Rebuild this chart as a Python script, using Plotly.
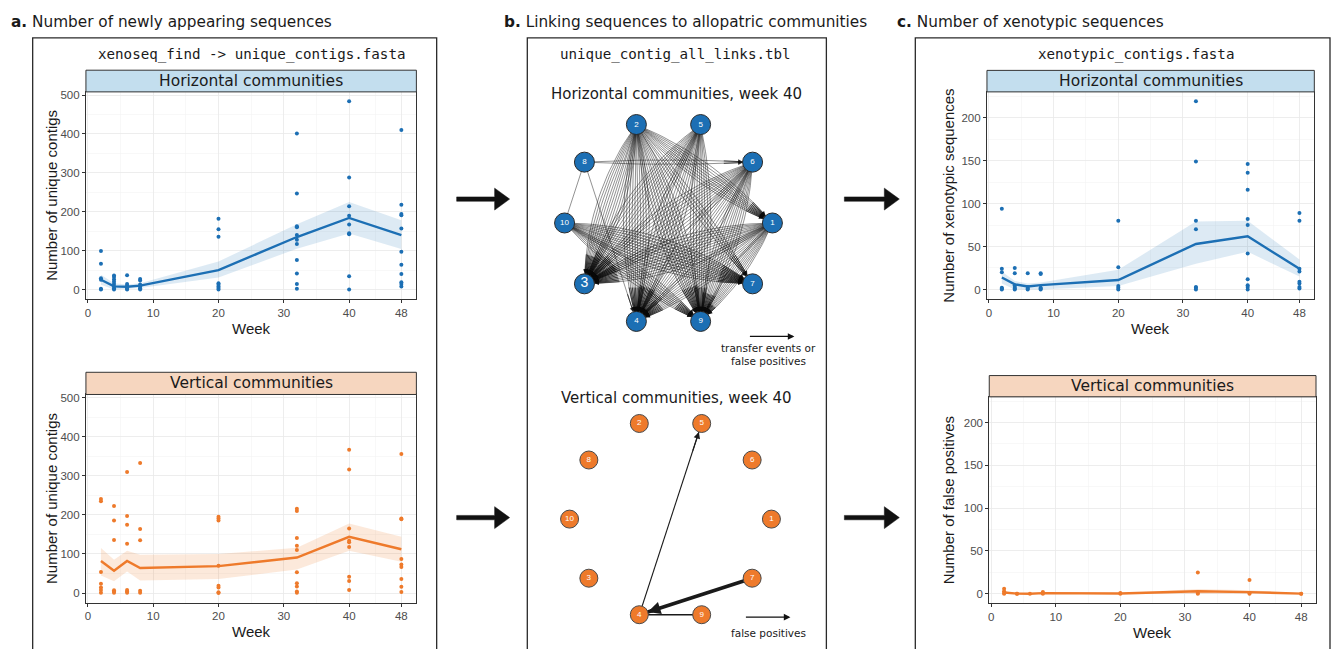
import numpy as np
import plotly.graph_objects as go

W, H = 1333, 649


def fx(x):
    return x / W


def fy(y):
    return 1 - y / H


# ---------------- data ----------------
WEEKS = [2, 4, 6, 8, 20, 32, 40, 48]
X_TICKS = [0, 10, 20, 30, 40, 48]
X_MINOR = [5, 15, 25, 35, 44]
Y_TICKS_A = [0, 100, 200, 300, 400, 500]
Y_MINOR_A = [50, 150, 250, 350, 450]
Y_TICKS_C = [0, 50, 100, 150, 200]
Y_MINOR_C = [25, 75, 125, 175, 225]

# a. unique contigs, horizontal communities
UNIQUE_H = [[99, 66, 29, 25, 2, 0], [36, 32, 26, 20, 14, 8, 3, 0], [37, 14, 10, 6, 2, 0],
            [27, 23, 13, 8, 3, 0], [182, 155, 136, 16, 12, 8, 4, 0],
            [401, 247, 163, 160, 140, 128, 117, 76, 41, 14, 2],
            [484, 288, 214, 190, 167, 145, 142, 34, 0],
            [410, 218, 194, 191, 157, 97, 64, 40, 19, 14, 8]]
UNIQUE_H_MEAN = [25, 8, 7, 10, 50, 135, 184, 140]
UNIQUE_H_LO = [12, 0, 2, 4, 31, 105, 144, 104]
UNIQUE_H_HI = [38, 16, 13, 16, 72, 168, 225, 178]

# a. unique contigs, vertical communities
UNIQUE_V = [[241, 235, 54, 24, 14, 8, 1], [223, 186, 136, 7, 4, 1], [310, 197, 175, 126, 8, 4, 1],
            [333, 164, 135, 6, 1], [195, 191, 186, 70, 19, 14, 2, 0],
            [216, 210, 141, 121, 110, 53, 25, 17, 4, 1],
            [367, 316, 165, 134, 130, 118, 42, 31, 8],
            [356, 191, 189, 87, 73, 67, 36, 16, 3]]
UNIQUE_V_MEAN = [82, 57, 82, 64, 69, 91, 144, 112]
UNIQUE_V_LO = [45, 30, 55, 32, 36, 60, 108, 80]
UNIQUE_V_HI = [115, 85, 108, 98, 100, 116, 178, 144]

# c. xenotypic sequences, horizontal communities
XENO_H = [[94, 24, 20, 2, 1, 0], [25, 19, 5, 3, 1, 0], [19, 3, 1, 0], [19, 18, 2, 1, 0],
          [80, 26, 4, 2, 0], [219, 149, 80, 70, 3, 2, 0],
          [146, 136, 116, 82, 75, 42, 12, 5, 3, 0], [89, 80, 24, 21, 9, 7, 3, 1]]
XENO_H_MEAN = [14, 6, 3.5, 5, 11, 53, 62, 24]
XENO_H_LO = [7, 0, 0, 0, 4, 30, 44, 15]
XENO_H_HI = [21, 10, 7, 8, 23, 79, 80, 35]

# c. false positives, vertical communities
FP_V = [[6, 3, 1, 0], [0, 0], [0], [2, 1, 0], [1, 0], [25, 1, 0], [16, 1, 0], [0, 0]]
FP_V_MEAN = [1.5, 0.2, 0, 0.8, 0.3, 3, 2, 0.2]
FP_V_LO = [0, 0, 0, 0, 0, 0.5, 0, 0]
FP_V_HI = [3, 1, 0.5, 2, 1, 5.5, 4, 1]

# b. networks (nodes placed on a circle in this order, counter-clockwise from east)
NODE_ORDER = ["1", "6", "5", "2", "8", "10", "3", "4", "9", "7"]
H_EDGES = [("2", "3", 12), ("2", "4", 10), ("2", "9", 10), ("2", "1", 9), ("2", "7", 4),
           ("5", "3", 12), ("5", "4", 10), ("5", "9", 8),
           ("6", "3", 12), ("6", "4", 10), ("6", "9", 10),
           ("1", "3", 12), ("1", "4", 10), ("1", "9", 9),
           ("10", "7", 12), ("10", "9", 8),
           ("8", "6", 2), ("8", "10", 1), ("8", "4", 1)]
V_EDGES = [("4", "5", 1), ("9", "4", 2), ("7", "4", 6)]

# ---------------- styles ----------------
BLUE = "#1c6fb4"
ORANGE = "#ee7a2b"
BLUE_RIB = "rgba(28,111,180,0.15)"
ORANGE_RIB = "rgba(238,122,43,0.17)"
STRIP_BLUE = "#c3deee"
STRIP_ORANGE = "#f6d6bf"
SANS = "Liberation Sans, Arial, sans-serif"
HEAD = "DejaVu Sans, Verdana, sans-serif"
MONO = "DejaVu Sans Mono, monospace"

fig = go.Figure()
shapes = []
annotations = []

PANELS = [
    dict(n=1, x=(85, 415.7), y=(89.3, 297.3), strip=67.5, label="Horizontal communities",
         sc=STRIP_BLUE, pts=UNIQUE_H, mean=UNIQUE_H_MEAN, lo=UNIQUE_H_LO, hi=UNIQUE_H_HI,
         col=BLUE, rib=BLUE_RIB, yr=[-24.2, 508.2], yt=Y_TICKS_A, ym=Y_MINOR_A,
         ytitle="Number of unique contigs", ytx=50.5),
    dict(n=2, x=(85, 415.7), y=(393.3, 602.3), strip=371, label="Vertical communities",
         sc=STRIP_ORANGE, pts=UNIQUE_V, mean=UNIQUE_V_MEAN, lo=UNIQUE_V_LO, hi=UNIQUE_V_HI,
         col=ORANGE, rib=ORANGE_RIB, yr=[-24.2, 508.2], yt=Y_TICKS_A, ym=Y_MINOR_A,
         ytitle="Number of unique contigs", ytx=50.5),
    dict(n=3, x=(986.7, 1314.3), y=(89.3, 297.3), strip=67.7, label="Horizontal communities",
         sc=STRIP_BLUE, pts=XENO_H, mean=XENO_H_MEAN, lo=XENO_H_LO, hi=XENO_H_HI,
         col=BLUE, rib=BLUE_RIB, yr=[-11, 230], yt=Y_TICKS_C, ym=Y_MINOR_C,
         ytitle="Number of xenotypic sequences", ytx=948),
    dict(n=4, x=(989, 1316), y=(395.7, 603), strip=374.3, label="Vertical communities",
         sc=STRIP_ORANGE, pts=FP_V, mean=FP_V_MEAN, lo=FP_V_LO, hi=FP_V_HI,
         col=ORANGE, rib=ORANGE_RIB, yr=[-11, 230], yt=Y_TICKS_C, ym=Y_MINOR_C,
         ytitle="Number of false positives", ytx=948),
]

layout_axes = {}
for p in PANELS:
    n = p["n"]
    xa, ya = f"x{n}", f"y{n}"
    px_, py_ = [], []
    for w, vals in zip(WEEKS, p["pts"]):
        px_ += [w] * len(vals)
        py_ += vals
    fig.add_trace(go.Scatter(x=px_, y=py_, mode="markers", xaxis=xa, yaxis=ya,
                             marker=dict(color=p["col"], size=4), showlegend=False,
                             hoverinfo="skip"))
    fig.add_trace(go.Scatter(x=WEEKS, y=p["lo"], mode="lines", line=dict(width=0),
                             xaxis=xa, yaxis=ya, showlegend=False, hoverinfo="skip"))
    fig.add_trace(go.Scatter(x=WEEKS, y=p["hi"], mode="lines", line=dict(width=0),
                             fill="tonexty", fillcolor=p["rib"], xaxis=xa, yaxis=ya,
                             showlegend=False, hoverinfo="skip"))
    fig.add_trace(go.Scatter(x=WEEKS, y=p["mean"], mode="lines",
                             line=dict(color=p["col"], width=2.4),
                             xaxis=xa, yaxis=ya, showlegend=False, hoverinfo="skip"))
    common = dict(showline=True, mirror=True, linecolor="#333333", linewidth=1,
                  ticks="outside", ticklen=3, tickcolor="#333333", tickwidth=1,
                  showgrid=True, gridcolor="#e8e8e8", gridwidth=0.8, zeroline=False,
                  tickfont=dict(family=SANS, size=11.5, color="#4d4d4d"))
    layout_axes[f"xaxis{n}"] = dict(domain=[fx(p["x"][0]), fx(p["x"][1])], anchor=ya,
                                    range=[-0.3, 50.3], tickmode="array", tickvals=X_TICKS,
                                    minor=dict(tickmode="array", tickvals=X_MINOR, showgrid=True,
                                               gridcolor="#f4f4f4", gridwidth=0.6),
                                    **common)
    layout_axes[f"yaxis{n}"] = dict(domain=[fy(p["y"][1]), fy(p["y"][0])], anchor=xa,
                                    range=p["yr"], tickmode="array", tickvals=p["yt"],
                                    minor=dict(tickmode="array", tickvals=p["ym"], showgrid=True,
                                               gridcolor="#f4f4f4", gridwidth=0.6),
                                    **common)
    shapes.append(dict(type="rect", xref="paper", yref="paper",
                       x0=fx(p["x"][0]), x1=fx(p["x"][1]), y0=fy(p["y"][0]), y1=fy(p["strip"]),
                       fillcolor=p["sc"], line=dict(color="#333333", width=1)))
    annotations.append(dict(xref="paper", yref="paper", x=fx((p["x"][0] + p["x"][1]) / 2),
                            y=fy((p["y"][0] + p["strip"]) / 2), text=p["label"], showarrow=False,
                            font=dict(family=HEAD, size=15.5, color="#1a1a1a"),
                            xanchor="center", yanchor="middle"))
    annotations.append(dict(xref="paper", yref="paper", x=fx((p["x"][0] + p["x"][1]) / 2),
                            y=fy(p["y"][1] + 29.5), text="Week", showarrow=False,
                            font=dict(family=SANS, size=15, color="#1a1a1a"),
                            xanchor="center", yanchor="middle"))
    annotations.append(dict(xref="paper", yref="paper", x=fx(p["ytx"]),
                            y=fy((p["y"][0] + p["y"][1]) / 2), text=p["ytitle"], showarrow=False,
                            textangle=-90, font=dict(family=SANS, size=15, color="#1a1a1a"),
                            xanchor="center", yanchor="middle"))

# ---------------- networks ----------------
angles = np.deg2rad(np.arange(len(NODE_ORDER)) * 36.0)
POS = {nd: np.array([np.cos(a), np.sin(a)]) for nd, a in zip(NODE_ORDER, angles)}


def net_axes(n, cx, cy, r):
    half = 1.25 * r
    layout_axes[f"xaxis{n}"] = dict(domain=[fx(cx - half), fx(cx + half)], range=[-1.25, 1.25],
                                    anchor=f"y{n}", visible=False, fixedrange=True)
    layout_axes[f"yaxis{n}"] = dict(domain=[fy(cy + half), fy(cy - half)], range=[-1.25, 1.25],
                                    anchor=f"x{n}", visible=False, fixedrange=True)


net_axes(5, 668, 221, 104)
net_axes(6, 670, 518.5, 101)

ex, ey = [], []
for s, t, k in H_EDGES:
    p0, p2 = POS[s], POS[t]
    d = p2 - p0
    L = np.linalg.norm(d)
    perp = np.array([-d[1], d[0]]) / L
    curv = np.linspace(-0.013 * k, 0.013 * k, k) if k > 1 else [0.0]
    tt = np.linspace(0, 1, 30)
    for c in curv:
        p1 = (p0 + p2) / 2 + c * L * perp
        pts = ((1 - tt) ** 2)[:, None] * p0 + (2 * (1 - tt) * tt)[:, None] * p1 + (tt ** 2)[:, None] * p2
        ex += list(pts[:, 0]) + [None]
        ey += list(pts[:, 1]) + [None]
        tb = 0.82
        pb = (1 - tb) ** 2 * p0 + 2 * (1 - tb) * tb * p1 + tb ** 2 * p2
        annotations.append(dict(xref="x5", yref="y5", axref="x5", ayref="y5",
                                x=p2[0], y=p2[1], ax=pb[0], ay=pb[1], text="",
                                showarrow=True, arrowhead=2, arrowsize=1.1, arrowwidth=0.8,
                                arrowcolor="rgba(10,10,10,0.85)", standoff=10))
fig.add_trace(go.Scatter(x=ex, y=ey, mode="lines", xaxis="x5", yaxis="y5",
                         line=dict(color="rgba(15,15,15,0.7)", width=0.65),
                         showlegend=False, hoverinfo="skip"))
fig.add_trace(go.Scatter(x=[POS[nd][0] for nd in NODE_ORDER], y=[POS[nd][1] for nd in NODE_ORDER],
                         mode="markers+text", text=NODE_ORDER, xaxis="x5", yaxis="y5",
                         marker=dict(size=20, color=BLUE, line=dict(color="#2a2a2a", width=1)),
                         textfont=dict(family=SANS, color="white",
                                       size=[14 if nd == "3" else 8 for nd in NODE_ORDER]),
                         textposition="middle center", showlegend=False, hoverinfo="skip"))

for s, t, w in V_EDGES:
    p0, p2 = POS[s], POS[t]
    wid = 0.6 + 0.5 * w
    fig.add_trace(go.Scatter(x=[p0[0], p2[0]], y=[p0[1], p2[1]], mode="lines", xaxis="x6", yaxis="y6",
                             line=dict(color="#1a1a1a", width=wid), showlegend=False,
                             hoverinfo="skip"))
    tb = 0.85
    pb = p0 + tb * (p2 - p0)
    annotations.append(dict(xref="x6", yref="y6", axref="x6", ayref="y6",
                            x=p2[0], y=p2[1], ax=pb[0], ay=pb[1], text="",
                            showarrow=True, arrowhead=2, arrowsize=max(0.7, 1.3 - 0.1 * w),
                            arrowwidth=wid, arrowcolor="#1a1a1a", standoff=9))
fig.add_trace(go.Scatter(x=[POS[nd][0] for nd in NODE_ORDER], y=[POS[nd][1] for nd in NODE_ORDER],
                         mode="markers+text", text=NODE_ORDER, xaxis="x6", yaxis="y6",
                         marker=dict(size=18, color=ORANGE, line=dict(color="#4a4a4a", width=1)),
                         textfont=dict(family=SANS, color="white", size=8),
                         textposition="middle center", showlegend=False, hoverinfo="skip"))

# ---------------- frames, headers, arrows ----------------
for x0, x1 in [(31.7, 436), (526.7, 826), (915, 1330)]:
    shapes.append(dict(type="rect", xref="paper", yref="paper", x0=fx(x0), x1=fx(x1),
                       y0=fy(700), y1=fy(35), line=dict(color="#2a2a2a", width=1.3)))


def big_arrow(x0, x1, yc):
    head = 15
    sh, hh = 2.2, 11
    pts = [(x0, yc - sh), (x1 - head, yc - sh), (x1 - head, yc - hh), (x1, yc),
           (x1 - head, yc + hh), (x1 - head, yc + sh), (x0, yc + sh)]
    path = "M " + " L ".join(f"{fx(a):.5f},{fy(b):.5f}" for a, b in pts) + " Z"
    shapes.append(dict(type="path", xref="paper", yref="paper", path=path,
                       fillcolor="#111111", line=dict(color="#111111", width=0.5)))


for (xa0, xa1) in [(456, 509), (844, 899)]:
    for yc in (197, 517):
        big_arrow(xa0, xa1, yc)

for x, lab, txt in [(8, "a.", "Number of newly appearing sequences"),
                    (501.7, "b.", "Linking sequences to allopatric communities"),
                    (895, "c.", "Number of xenotypic sequences")]:
    annotations.append(dict(xref="paper", yref="paper", x=fx(x), y=fy(19.5),
                            text=f"<b>{lab}</b> {txt}", showarrow=False, xanchor="left",
                            yanchor="middle", font=dict(family=HEAD, size=15.3, color="#1a1a1a")))

for xc, txt in [(250.8, "xenoseq_find -> unique_contigs.fasta"),
                (675, "unique_contig_all_links.tbl"),
                (1136, "xenotypic_contigs.fasta")]:
    annotations.append(dict(xref="paper", yref="paper", x=fx(xc), y=fy(51.5), text=txt,
                            showarrow=False, xanchor="center", yanchor="middle",
                            font=dict(family=MONO, size=14.2, color="#1a1a1a")))

for yc, txt in [(91, "Horizontal communities, week 40"), (397, "Vertical communities, week 40")]:
    annotations.append(dict(xref="paper", yref="paper", x=fx(676), y=fy(yc), text=txt,
                            showarrow=False, xanchor="center", yanchor="middle",
                            font=dict(family=HEAD, size=15, color="#1a1a1a")))

for (xa0, xa1, ya, lines) in [(748, 794, 335, [("transfer events or", 347), ("false positives", 360)]),
                              (744, 790, 617, [("false positives", 632.5)])]:
    annotations.append(dict(xref="paper", yref="paper", x=fx(xa1), y=fy(ya), ax=-(xa1 - xa0), ay=0,
                            text="", showarrow=True, arrowhead=2, arrowsize=1.1, arrowwidth=1.2,
                            arrowcolor="#111111"))
    for txt, yy in lines:
        annotations.append(dict(xref="paper", yref="paper", x=fx(768), y=fy(yy), text=txt,
                                showarrow=False, xanchor="center", yanchor="middle",
                                font=dict(family=HEAD, size=10.5, color="#1a1a1a")))

fig.update_layout(width=W, height=H, margin=dict(l=0, r=0, t=0, b=0), autosize=False,
                  paper_bgcolor="white", plot_bgcolor="white", shapes=shapes,
                  annotations=annotations, showlegend=False, **layout_axes)

fig.write_html("out.html", config={"displayModeBar": False, "staticPlot": True},
               post_script="document.body.style.margin='0';")
